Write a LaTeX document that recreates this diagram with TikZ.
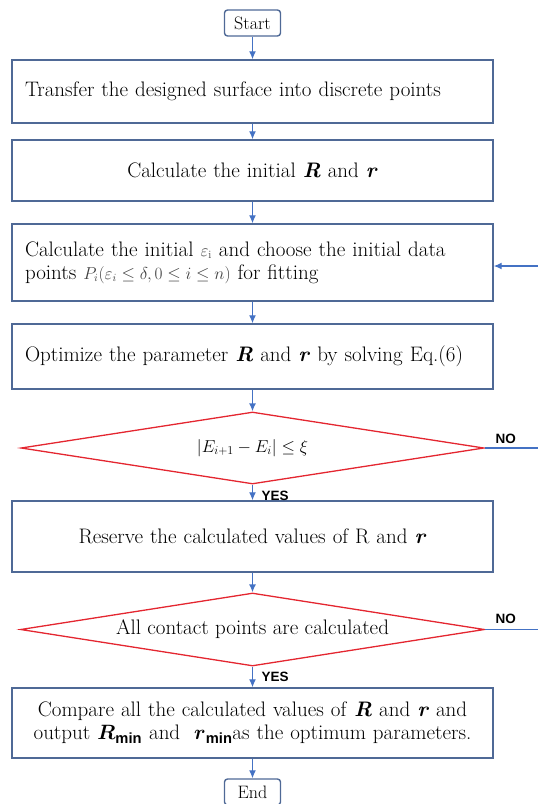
\documentclass[tikz,border=0pt]{standalone}
\usepackage{amsmath, amssymb}
\usepackage{fontspec}
\newfontfamily\labelfont{Liberation Sans}
\usetikzlibrary{arrows.meta, positioning, shapes.geometric}

\definecolor{boxblue}{RGB}{79,105,150}
\definecolor{arrowblue}{RGB}{68,114,196}
\definecolor{decred}{RGB}{228,38,48}

\begin{document}
\begin{tikzpicture}[x=1pt, y=-1pt,
    every node/.style={font=\fontsize{21}{23}\selectfont},
    process/.style={rectangle, draw=boxblue, line width=1.4pt, text width=455pt, inner xsep=13pt},
    terminal/.style={rectangle, rounded corners=3pt, draw=boxblue, line width=1.4pt, minimum width=56pt, minimum height=26pt, inner sep=2pt, font=\fontsize{18}{20}\selectfont},
    decision/.style={diamond, draw=decred, line width=1.3pt, inner sep=0pt, shape aspect=6.4},
    flow/.style={draw=arrowblue, line width=1.3pt, -{Latex[length=8pt, width=7pt]}},
    branchline/.style={draw=arrowblue, line width=1.3pt},
    branch/.style={font=\labelfont\bfseries\fontsize{13.5}{15}\selectfont}
]
    \useasboundingbox (0,0) rectangle (538,804);

    % 流程节点
    \node[terminal] (start) at (252.5,23) {Start};
    \node[process, minimum height=63pt, align=left] (b1) at (252.5,91.5)
        {Transfer the designed surface into discrete points};
    \node[process, minimum height=61pt, align=center] (b2) at (252.5,170.5)
        {Calculate the initial \textbf{\textit{R}} and \textbf{\textit{r}}};
    \node[process, minimum height=77pt, align=left] (b3) at (252.5,262.5)
        {Calculate the initial {\fontsize{16}{18}\selectfont\color{black!75}$\varepsilon_{\mathrm{i}}$} and choose the initial data\\
         points {\fontsize{16}{18}\selectfont\color{black!75}$P_{i}(\varepsilon_{i}\le\delta,0\le i\le n)$} for fitting};
    \node[process, minimum height=65pt, align=left] (b4) at (252.5,356.5)
        {Optimize the parameter \textbf{\textit{R}} and \textbf{\textit{r}} by solving Eq.(6)};
    \node[decision, minimum width=463pt, minimum height=72pt, font=\fontsize{17}{19}\selectfont] (d1) at (252.5,448)
        {$\left|E_{i+1}-E_{i}\right|\le\xi$};
    \node[process, minimum height=71pt, align=center] (b5) at (252.5,536.5)
        {Reserve the calculated values of R and \textbf{\textit{r}}};
    \node[decision, minimum width=464pt, minimum height=73pt] (d2) at (252.5,629.5)
        {All contact points are calculated};
    \node[process, minimum height=70pt, align=center] (b6) at (252.5,723)
        {Compare all the calculated values of \textbf{\textit{R}} and \textbf{\textit{r}} and\\
         output $\boldsymbol{R}_{\text{\labelfont\bfseries min}}$ and\ \ $\boldsymbol{r}_{\text{\labelfont\bfseries min}}$as the optimum parameters.};
    \node[terminal] (end) at (252.5,792) {End};

    % 连线
    \draw[flow] (start) -- (b1);
    \draw[flow] (b1) -- (b2);
    \draw[flow] (b2) -- (b3);
    \draw[flow] (b3) -- (b4);
    \draw[flow] (b4) -- (d1);
    \draw[flow] (d1) -- (b5);
    \draw[flow] (b5) -- (d2);
    \draw[flow] (d2) -- (b6);
    \draw[flow] (b6) -- (end);

    % 分支
    \coordinate (out1) at (538,448);
    \coordinate (out2) at (538,629.5);
    \coordinate (back) at (538,266);
    \draw[branchline] (d1.east) -- (out1);
    \draw[branchline] (d2.east) -- (out2);
    \draw[flow] (back) -- (back -| b3.east);

    % 标注
    \node[branch, anchor=west] (yes1) at (258,496) {YES};
    \node[branch, anchor=west] (yes2) at (258,677) {YES};
    \node[branch, anchor=west] (no1) at (492,439) {NO};
    \node[branch, anchor=west] (no2) at (492,619) {NO};
\end{tikzpicture}
\end{document}
